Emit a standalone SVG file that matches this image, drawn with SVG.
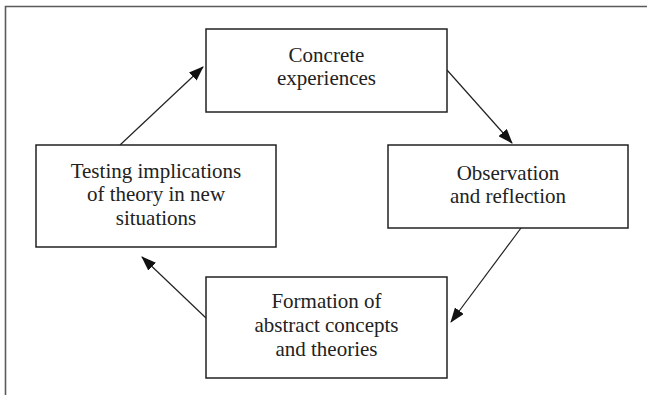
<svg xmlns="http://www.w3.org/2000/svg" width="647" height="395" viewBox="0 0 647 395">
<style>
.frame{fill:none;stroke:#5a5a5a;stroke-width:1.6}
.box{fill:#fff;stroke:#222;stroke-width:1.5}
.con{stroke:#222;stroke-width:1.2;fill:none;marker-end:url(#ah)}
text{font-family:"Times New Roman","Liberation Serif","DejaVu Serif",serif;font-size:21px;fill:#222;text-anchor:middle}
</style>
<defs>
<marker id="ah" markerWidth="15" markerHeight="11" refX="14" refY="5.5" orient="auto" markerUnits="userSpaceOnUse" viewBox="0 0 15 11">
<path d="M0,0 L15,5.5 L0,11 Z" fill="#111"/>
</marker>
</defs>
<rect width="647" height="395" fill="#fff"/>
<path class="frame" d="M5.5,395 V6.5 H647"/>
<g id="connectors">
<line class="con" x1="447" y1="70" x2="512" y2="143"/>
<line class="con" x1="521" y1="228" x2="451" y2="322"/>
<line class="con" x1="206" y1="318" x2="142" y2="257"/>
<line class="con" x1="120" y1="145" x2="203" y2="67"/>
</g>
<g id="concrete">
<rect class="box" x="206" y="29" width="241" height="83"/>
<text x="326.5" y="62">Concrete</text>
<text x="326.5" y="85">experiences</text>
</g>
<g id="observation">
<rect class="box" x="388" y="145" width="240" height="83"/>
<text x="508" y="180">Observation</text>
<text x="508" y="203">and reflection</text>
</g>
<g id="formation">
<rect class="box" x="206" y="277" width="241" height="101"/>
<text x="326.5" y="308">Formation of</text>
<text x="326.5" y="332">abstract concepts</text>
<text x="326.5" y="356">and theories</text>
</g>
<g id="testing">
<rect class="box" x="36" y="145" width="240" height="102"/>
<text x="156" y="178">Testing implications</text>
<text x="156" y="201">of theory in new</text>
<text x="156" y="225">situations</text>
</g>
</svg>
